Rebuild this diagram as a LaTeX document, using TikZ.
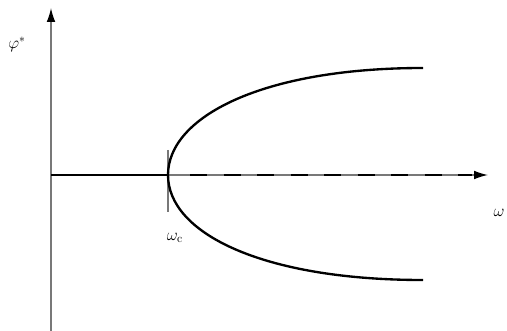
\documentclass[tikz,border=0pt]{standalone}
\usepackage{amsmath,amssymb}
\usepackage{tikz}
\usetikzlibrary{arrows.meta,positioning,calc}
\definecolor{axisgray}{RGB}{120,120,120}
\tikzset{
    axisline/.style={line width=1.1pt, draw=axisgray, -{Latex[length=4.2mm,width=2.6mm,black]}},
    branch/.style={line width=2pt, draw=black},
    unstable/.style={line width=2pt, draw=black, dash pattern=on 5.1mm off 4.95mm},
    tickmark/.style={line width=0.9pt, draw=axisgray},
    lbl/.style={font=\Large, inner sep=1pt},
}

\begin{document}
\begin{tikzpicture}[x=0.3mm, y=0.3mm]
    \useasboundingbox (0,0) rectangle (507,331);
    % axes
    \coordinate (O) at (51,156);
    \coordinate (ybot) at (51,0);
    \coordinate (ytop) at (51,323);
    \coordinate (xend) at (488,156);
    \draw[axisline] (ybot) -- (ytop);
    \draw[axisline] (O) -- (xend);
    \node[lbl] (phi) at (17,287) {$\varphi^{*}$};
    \node[lbl] (om) at (499,118) {$\omega$};
    % bifurcation point
    \coordinate (crit) at (168,156);
    \coordinate (tktop) at (168,181);
    \coordinate (tkbot) at (168,119);
    \draw[tickmark] (tktop) -- (tkbot);
    \node[lbl] (omc) at (175,93) {$\omega_{\mathrm{c}}$};
    % stable branches
    \coordinate (up) at (423,263);
    \coordinate (dn) at (423,51);
    \draw[branch] (O) -- (crit);
    \draw[branch] (crit) .. controls (168,214) and (262,263) .. (up);
    \draw[branch] (crit) .. controls (168,98) and (262,51) .. (dn);
    % unstable branch
    \coordinate (ds) at (190,156);
    \coordinate (de) at (472,156);
    \draw[unstable] (ds) -- (de);
\end{tikzpicture}
\end{document}
